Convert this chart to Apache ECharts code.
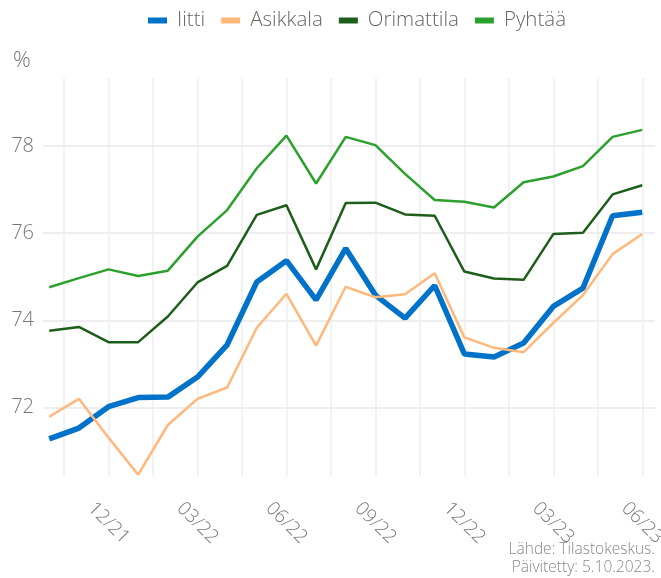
<!DOCTYPE html>
<html lang="fi">
  <head>
    <meta charset="UTF-8" />
    <title>Iitti, Asikkala, Orimattila, Pyhtää</title>
    <script src="https://cdn.jsdelivr.net/npm/echarts@6/dist/echarts.min.js"></script>
    <style>
      html, body { margin: 0; padding: 0; background: #fff; }
      #chart { width: 661px; height: 578px; }
    </style>
  </head>
  <body>
    <div id="chart"></div>
    <script>
      // kuukaudet 10/21 - 06/23
      var months = ['10/21', '11/21', '12/21', '01/22', '02/22', '03/22', '04/22', '05/22', '06/22',
        '07/22', '08/22', '09/22', '10/22', '11/22', '12/22', '01/23', '02/23', '03/23', '04/23',
        '05/23', '06/23'];
      var labelIdx = [2, 5, 8, 11, 14, 17, 20];
      var yTicks = [72, 74, 76, 78];

      var iitti = [71.28, 71.53, 72.02, 72.23, 72.24, 72.70, 73.44, 74.88, 75.37, 74.47, 75.65,
        74.58, 74.05, 74.80, 73.23, 73.16, 73.48, 74.32, 74.74, 76.40, 76.48];
      var asikkala = [71.79, 72.20, 71.31, 70.46, 71.60, 72.20, 72.46, 73.83, 74.61, 73.42, 74.77,
        74.53, 74.60, 75.08, 73.61, 73.37, 73.27, 73.94, 74.58, 75.52, 75.98];
      var orimattila = [73.76, 73.85, 73.50, 73.50, 74.09, 74.87, 75.25, 76.42, 76.64, 75.17, 76.69,
        76.70, 76.43, 76.40, 75.12, 74.96, 74.93, 75.98, 76.01, 76.89, 77.10];
      var pyhtaa = [74.76, 74.97, 75.17, 75.02, 75.14, 75.92, 76.53, 77.49, 78.24, 77.14, 78.21,
        78.02, 77.36, 76.76, 76.72, 76.59, 77.17, 77.30, 77.54, 78.21, 78.37];

      // pystyviivat puolentoista kuukauden välein
      var gridX = [];
      for (var g = 0.5; g <= 20.5; g += 1.5) gridX.push(g);

      function pairs(arr) {
        return arr.map(function (v, i) { return [i, v]; });
      }

      var font = '"Open Sans", Lato, sans-serif';
      var chart = echarts.init(document.getElementById('chart'));
      chart.setOption({
        animation: false,
        textStyle: { fontFamily: font },
        title: {
          text: '%', left: 8, top: 45,
          textStyle: { fontFamily: font, fontSize: 22, fontWeight: 300, color: '#777' }
        },
        graphic: [{
          type: 'text',
          right: 6,
          bottom: 1,
          style: {
            text: 'Lähde: Tilastokeskus.\nPäivitetty: 5.10.2023.',
            textAlign: 'right',
            font: '300 15.5px ' + font,
            lineHeight: 18,
            fill: '#888'
          }
        }],
        legend: {
          top: 5,
          left: 143,
          itemWidth: 19,
          itemHeight: 6,
          itemGap: 16,
          icon: 'rect',
          textStyle: { fontFamily: font, fontSize: 20.5, fontWeight: 300, color: '#666', padding: [0, 0, 0, 5] }
        },
        grid: { left: 43, right: 6, top: 78, bottom: 102, containLabel: false, outerBoundsMode: 'none' },
        xAxis: {
          type: 'value',
          min: -0.21,
          max: 20.43,
          axisLine: { show: false },
          axisTick: { show: false, customValues: gridX },
          splitLine: { show: true, lineStyle: { color: '#eeeeee', width: 1.5 } },
          axisLabel: {
            customValues: labelIdx,
            formatter: function (v) { return months[Math.round(v)]; },
            rotate: -45,
            align: 'center',
            verticalAlign: 'middle',
            margin: 47,
            fontFamily: font,
            fontSize: 19,
            fontWeight: 300,
            color: '#777'
          }
        },
        yAxis: {
          type: 'value',
          min: 70.43,
          max: 79.56,
          axisLine: { show: false },
          axisTick: { show: false, customValues: yTicks },
          splitLine: { show: true, lineStyle: { color: '#eeeeee', width: 2 } },
          axisLabel: {
            customValues: yTicks,
            fontFamily: font,
            fontSize: 20,
            fontWeight: 300,
            color: '#777',
            margin: 9
          }
        },
        series: [
          { name: 'Iitti', type: 'line', data: pairs(iitti), symbol: 'none', color: '#0072c9',
            lineStyle: { width: 5.5 } },
          { name: 'Asikkala', type: 'line', data: pairs(asikkala), symbol: 'none', color: '#ffb77a',
            lineStyle: { width: 2.5 } },
          { name: 'Orimattila', type: 'line', data: pairs(orimattila), symbol: 'none', color: '#1d5e1b',
            lineStyle: { width: 2.5 } },
          { name: 'Pyhtää', type: 'line', data: pairs(pyhtaa), symbol: 'none', color: '#2ca02c',
            lineStyle: { width: 2.5 } }
        ]
      });
    </script>
  </body>
</html>
